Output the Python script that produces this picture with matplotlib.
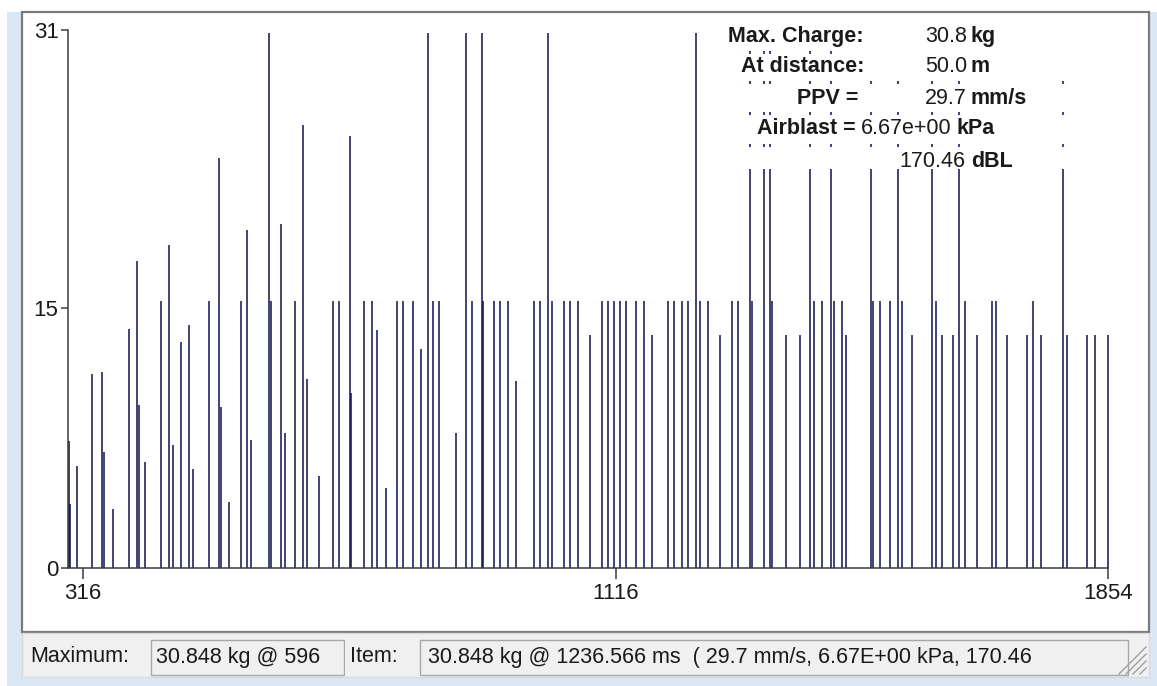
import matplotlib
matplotlib.use("Agg")
import matplotlib.pyplot as plt
from matplotlib.patches import Rectangle
from matplotlib.lines import Line2D

# charge per delay time (ms) -> kg
times = [295, 297, 307, 330.4, 345.4, 348.4, 361, 385.5, 397.5, 400, 410, 433.5, 446, 452,
         464, 476, 482, 505.5, 520.5,
         523.5, 536, 554, 562.5, 569, 596, 598.5, 613.5, 620, 635, 647, 653, 671, 692, 701,
         716.5, 719, 737.5,
         749.5, 758, 770.5, 788, 797, 812, 824, 833.5, 842, 851, 875.5, 890.5, 899.5, 914.5,
         917, 932.5, 941.5, 953.5, 965.5,
         992.5, 1001.5, 1013.5, 1019.5, 1037.5, 1046.5, 1059, 1076.5, 1094.5, 1103.5, 1113,
         1122, 1131, 1146, 1158, 1170, 1194,
         1203, 1214.5, 1224, 1236.566, 1242, 1254.5, 1272, 1290.5, 1299.5, 1317, 1319.5,
         1338.5, 1347, 1349.5, 1371, 1392.5, 1407, 1413.5,
         1425.5, 1438, 1443.5, 1455.5, 1461.5, 1498.5, 1501, 1512, 1527, 1539.5, 1545,
         1560.5, 1590.5, 1596.5, 1605.5, 1621, 1630, 1639,
         1657, 1680.5, 1686.5, 1702, 1732, 1741.5, 1753, 1786, 1792, 1822, 1834, 1854]
charges = [7.3, 3.7, 5.9, 11.2, 11.3, 6.7, 3.4, 13.8, 17.7, 9.4, 6.1, 15.4, 18.6, 7.1,
           13.0, 14.0, 5.7, 15.4, 23.6,
           9.3, 3.8, 15.4, 19.5, 7.4, 30.848, 15.4, 19.8, 7.8, 15.4, 25.5, 10.9, 5.3, 15.4, 15.4,
           24.9, 10.1, 15.4,
           15.4, 13.7, 4.6, 15.4, 15.4, 15.4, 12.6, 30.848, 15.4, 15.4, 7.8, 30.848, 15.4, 30.848,
           15.4, 15.4, 15.4, 15.4, 10.8,
           15.4, 15.4, 30.848, 15.4, 15.4, 15.4, 15.4, 13.4, 15.4, 15.4, 15.4,
           15.4, 15.4, 15.4, 15.4, 13.4, 15.4,
           15.4, 15.4, 15.4, 30.848, 15.4, 15.4, 13.4, 15.4, 15.4, 30.848, 15.4,
           30.848, 30.848, 15.4, 13.4, 13.4, 30.848, 15.4,
           15.4, 30.848, 15.4, 15.4, 13.4, 29.0, 15.4, 15.4, 15.4, 29.0, 15.4,
           13.4, 29.0, 15.4, 13.4, 13.4, 29.0, 15.4,
           13.4, 15.4, 15.4, 13.4, 13.4, 15.4, 13.4, 29.0, 13.4, 13.4, 13.4, 13.4]

xticks = [316, 1116, 1854]
yticks = [0, 15, 31]

info_rows = [("Max. Charge:", "30.8", "kg"),
             ("At distance:", "50.0", "m"),
             ("PPV =", "29.7", "mm/s"),
             ("Airblast =", "6.67e+00", "kPa"),
             ("", "170.46", "dBL")]

max_text = "30.848 kg @ 596"
item_text = "30.848 kg @ 1236.566 ms  ( 29.7 mm/s, 6.67E+00 kPa, 170.46"

W, H = 1157, 686
plt.rcParams['font.family'] = ['Liberation Sans', 'DejaVu Sans']
fig = plt.figure(figsize=(W / 100, H / 100), dpi=100)
fig.patch.set_facecolor('white')

def fx(x):
    return x / W

def fy(y):
    return 1 - y / H

def rect(x0, y0, x1, y1, **kw):
    r = Rectangle((fx(x0), fy(y1)), fx(x1) - fx(x0), fy(y0) - fy(y1),
                  transform=fig.transFigure, **kw)
    fig.add_artist(r)
    return r

# window background / panel
rect(7, 12, 1157, 686, facecolor='#dce7f5', edgecolor='none', zorder=-10)
rect(22, 12, 1149, 632, facecolor='white', edgecolor='#7a7a7a', lw=1.6, zorder=-9)
rect(22, 633, 1149, 677, facecolor='#f0f0f0', edgecolor='#d8d8d8', lw=1, zorder=-9)

# chart axes
ax = fig.add_axes([fx(68.3), fy(568), fx(1108.5) - fx(68.3), fy(30) - fy(568)])
ax.patch.set_visible(False)
ax.vlines(times, 0, charges, color='#111150', lw=1.1, zorder=2)
ax.set_xlim(294.4, 1854.7)
ax.set_ylim(0, 31)
ax.set_xticks(xticks)
ax.set_yticks(yticks)
ax.set_xticklabels([str(t) for t in xticks])
ax.set_yticklabels([str(t) for t in yticks])
for s in ['top', 'right']:
    ax.spines[s].set_visible(False)
for s in ['left', 'bottom']:
    ax.spines[s].set_color('#3c3c3c')
    ax.spines[s].set_linewidth(1.1)
ax.tick_params(axis='both', colors='#3c3c3c', labelcolor='#1a1a1a', labelsize=16, width=1.1)
ax.tick_params(axis='x', length=8, pad=3)
ax.tick_params(axis='y', length=5, pad=2)

# info box rows (white background per line, bars peek through the gaps)
row_y = [36.7, 66.7, 98.3, 128.3, 161.7]
row_box = [(23, 50.5), (53.5, 80.5), (83.5, 111.5), (114.5, 143.5), (146.5, 169)]
lab_x = [864, 864, 858, 856, 856]
num_x = [925, 925, 925, 861, 899]
unit_x = [970, 970, 971, 957, 971]
for i, (lab, num, unit) in enumerate(info_rows):
    rect(718, row_box[i][0], 1068, row_box[i][1], facecolor='white', edgecolor='none', zorder=3)
    if lab:
        fig.text(fx(lab_x[i]), fy(row_y[i]), lab, ha='right', va='center', fontsize=15.5,
                 fontweight='bold', color='#1a1a1a', zorder=4)
    fig.text(fx(num_x[i]), fy(row_y[i]), num, ha='left', va='center', fontsize=15.5,
             color='#1a1a1a', zorder=4)
    fig.text(fx(unit_x[i]), fy(row_y[i]), unit, ha='left', va='center', fontsize=15.5,
             fontweight='bold', color='#1a1a1a', zorder=4)

# status bar
sy = 657
fig.text(fx(30), fy(sy), "Maximum:", ha='left', va='center', fontsize=15.5, color='#1a1a1a', zorder=4)
rect(151, 640, 344, 675, facecolor='#f0f0f0', edgecolor='#a8a8a8', lw=1, zorder=3)
fig.text(fx(156), fy(sy), max_text, ha='left', va='center', fontsize=15.5, color='#1a1a1a', zorder=4)
rect(345, 638, 419, 676, facecolor='#f0f0f0', edgecolor='none', zorder=5)
fig.text(fx(350), fy(sy), "Item:", ha='left', va='center', fontsize=15.5, color='#1a1a1a', zorder=6)
rect(420, 640, 1128, 675, facecolor='#f0f0f0', edgecolor='#a8a8a8', lw=1, zorder=3)
fig.text(fx(428), fy(sy), item_text, ha='left', va='center', fontsize=15.5, color='#1a1a1a', zorder=4)

# size grip
for k in range(4):
    off = 6 + k * 7
    fig.add_artist(Line2D([fx(1146 - off), fx(1146)], [fy(674), fy(674 - off)],
                          transform=fig.transFigure, color='#a0a0a0', lw=1, zorder=6))

fig.savefig('out.png', dpi=100)
